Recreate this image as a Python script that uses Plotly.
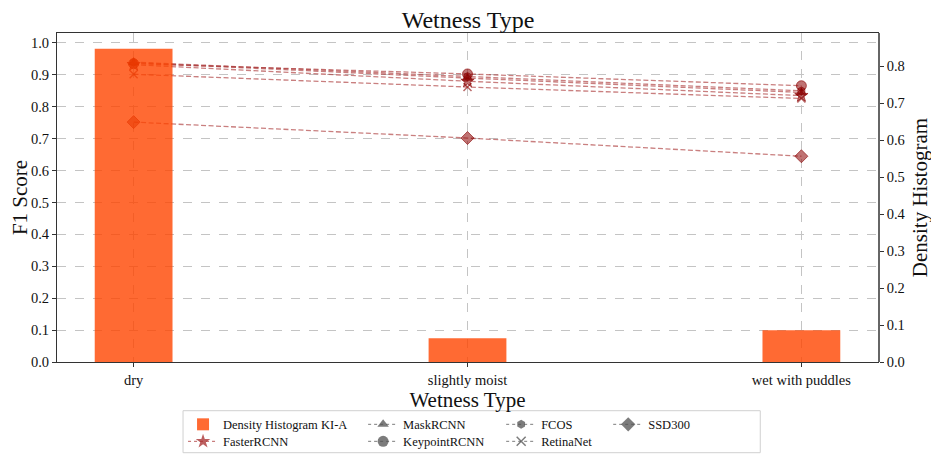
import plotly.graph_objects as go

categories = ["dry", "slightly moist", "wet with puddles"]
density = [0.848, 0.064, 0.086]

faster_rcnn = [0.932, 0.880, 0.835]
mask_rcnn = [0.938, 0.890, 0.845]
keypoint_rcnn = [0.935, 0.903, 0.866]
fcos = [0.940, 0.895, 0.850]
retinanet = [0.902, 0.862, 0.826]
ssd300 = [0.752, 0.702, 0.645]

left_ticks = [0.0, 0.1, 0.2, 0.3, 0.4, 0.5, 0.6, 0.7, 0.8, 0.9, 1.0]
right_ticks = [0.0, 0.1, 0.2, 0.3, 0.4, 0.5, 0.6, 0.7, 0.8]

FONT = "Liberation Serif"
LINE_COL = "rgba(165,42,42,0.6)"
MK_FILL = "rgba(139,0,0,0.55)"
MK_LINE = "rgba(139,0,0,0.6)"
GREY = "rgba(80,80,80,0.75)"
DASH = "5px,2.5px"

models = [
    ("FasterRCNN", faster_rcnn, "star", 10),
    ("MaskRCNN", mask_rcnn, "triangle-up", 9),
    ("KeypointRCNN", keypoint_rcnn, "circle", 10),
    ("FCOS", fcos, "hexagon", 8),
    ("RetinaNet", retinanet, "x-thin", 8),
    ("SSD300", ssd300, "diamond", 10),
]

# The page body has an 8px margin, so the figure is 8px smaller and
# all page-pixel targets below are converted to figure pixels.
OFF = 8
FIG_W, FIG_H = 939 - OFF, 455 - OFF
PL, PT, PR_PAGE, PB_PAGE = 57, 33.3, 877.7, 362.3
W = PR_PAGE - PL
H = PB_PAGE - PT
ML = PL - OFF
MT = PT - OFF
MR = FIG_W - ML - W
MB = FIG_H - MT - H

fig = go.Figure()

for name, vals, sym, sz in models:
    fig.add_trace(go.Scatter(
        x=categories, y=vals, mode="lines+markers", name=name,
        line=dict(color=LINE_COL, width=1.3, dash=DASH),
        marker=dict(symbol=sym, size=sz, color=MK_FILL,
                    line=dict(color=MK_LINE, width=1.5 if sym == "x-thin" else 1)),
        showlegend=False, yaxis="y", xaxis="x",
    ))

fig.add_trace(go.Bar(
    x=categories, y=density, width=0.233, name="Density Histogram KI-A",
    marker=dict(color="rgb(255,69,0)", line=dict(width=0)), opacity=0.8,
    yaxis="y2", xaxis="x", legend="legend", showlegend=True,
))


def px(xp):
    return (xp - PL) / W


def py(yp):
    return (PB_PAGE - yp) / H


ROW1, ROW2 = 425, 442
COLS = [183, 363, 501, 608]
entry_pos = {
    "FasterRCNN": ("legend2", COLS[0], ROW2),
    "MaskRCNN": ("legend3", COLS[1], ROW1),
    "KeypointRCNN": ("legend4", COLS[1], ROW2),
    "FCOS": ("legend5", COLS[2], ROW1),
    "RetinaNet": ("legend6", COLS[2], ROW2),
    "SSD300": ("legend7", COLS[3], ROW1),
}
for name, vals, sym, sz in models:
    col = "rgba(165,42,42,0.75)" if name == "FasterRCNN" else GREY
    fig.add_trace(go.Scatter(
        x=[None], y=[None], mode="lines+markers", name=name,
        line=dict(color=col, width=1, dash="3px,3px"),
        marker=dict(symbol=sym, size=sz + 1, color=col,
                    line=dict(color=col, width=1.5 if sym == "x-thin" else 0)),
        legend=entry_pos[name][0], showlegend=True, yaxis="y", xaxis="x",
    ))

leg_common = dict(font=dict(family=FONT, size=12.5, color="#111"), bgcolor="rgba(0,0,0,0)",
                  borderwidth=0, yanchor="middle", xanchor="left", orientation="v",
                  tracegroupgap=0)
legends = {"legend": dict(x=px(COLS[0]), y=py(ROW1), **leg_common)}
for name, (lid, lx, ly) in entry_pos.items():
    legends[lid] = dict(x=px(lx), y=py(ly), **leg_common)

TICKF = dict(family=FONT, size=14.5, color="#111")
fig.update_layout(
    width=FIG_W, height=FIG_H,
    margin=dict(l=ML, r=MR, t=MT, b=MB, autoexpand=False),
    paper_bgcolor="white", plot_bgcolor="white",
    font=dict(family=FONT, size=14, color="#111"),
    title=dict(text="Wetness Type", x=(468 - OFF) / FIG_W, xanchor="center",
               y=1 - 3 / FIG_H, yanchor="top", pad=dict(t=0, b=0),
               yref="container", font=dict(family=FONT, size=24, color="#111")),
    xaxis=dict(
        type="category", range=[-0.2295, 2.2295], automargin=False,
        showgrid=True, gridcolor="#c4c4c4", griddash="dash", gridwidth=1,
        showline=True, linecolor="#333", linewidth=1.2, mirror=True,
        ticks="outside", ticklen=4, tickcolor="#333",
        tickfont=TICKF,
        title=dict(text="Wetness Type", font=dict(family=FONT, size=21, color="#111"), standoff=5),
    ),
    yaxis=dict(
        range=[0, 1.0313], tickvals=left_ticks, ticktext=[f"{v:.1f}" for v in left_ticks],
        automargin=False,
        showgrid=True, gridcolor="#c4c4c4", griddash="dash", gridwidth=1,
        showline=True, linecolor="#333", linewidth=1.2, mirror=True,
        ticks="outside", ticklen=4, tickcolor="#333", zeroline=False,
        tickfont=TICKF,
        title=dict(text="F1 Score", font=dict(family=FONT, size=21, color="#111"), standoff=8),
    ),
    yaxis2=dict(
        overlaying="y", side="right", range=[0, 0.8904], automargin=False,
        tickvals=right_ticks, ticktext=[f"{v:.1f}" for v in right_ticks],
        showgrid=False, zeroline=False,
        showline=True, linecolor="#666", linewidth=1.5,
        ticks="outside", ticklen=4, tickcolor="#333",
        tickfont=TICKF,
        title=dict(text="Density Histogram", font=dict(family=FONT, size=21, color="#111"), standoff=8),
    ),
    barmode="overlay",
    shapes=[dict(type="rect", xref="paper", yref="paper",
                 x0=px(183), x1=px(760), y0=py(453), y1=py(411),
                 line=dict(color="#d0d0d0", width=1), fillcolor="white", layer="below")],
    **legends,
)

fig.write_html("out.html")
